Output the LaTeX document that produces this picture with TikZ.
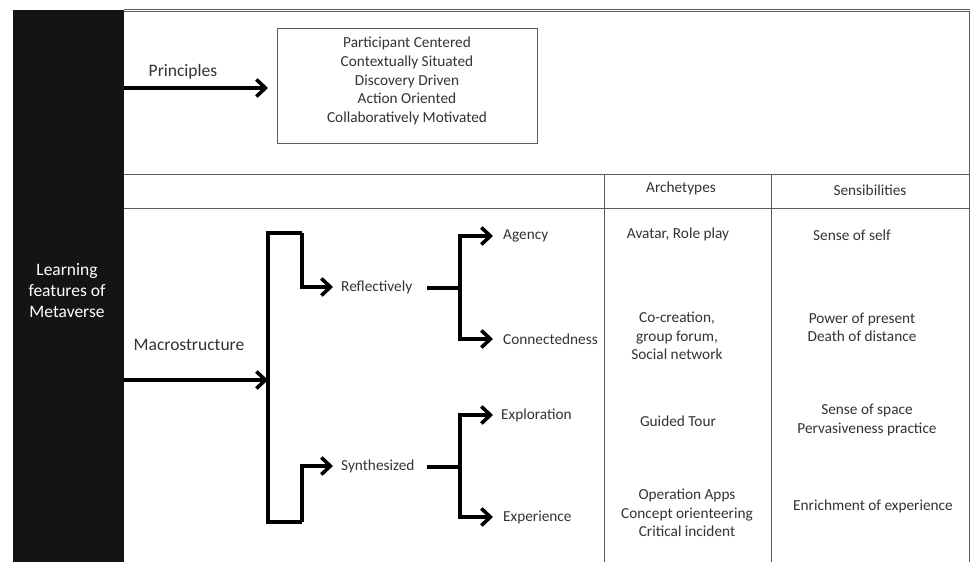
\documentclass[tikz,border=0pt]{standalone}
\usepackage{fontspec}
\setmainfont{Carlito}
\usetikzlibrary{arrows.meta}
\definecolor{barblack}{HTML}{141414}
\definecolor{rulegray}{HTML}{5A5A5A}
\definecolor{txtgray}{HTML}{333333}
\tikzset{
  rule/.style={draw=rulegray, line width=0.9pt},
  flow/.style={draw=black, line width=3.6pt, line join=miter},
  flowarrow/.style={flow, -{Straight Barb[length=9pt, width=17pt]}},
  lbl/.style={text=txtgray, font=\fontsize{15.3}{18.3}\selectfont, inner sep=1pt, align=center},
  biglbl/.style={text=txtgray, font=\fontsize{17.5}{21}\selectfont, inner sep=1pt},
}
\begin{document}
\begin{tikzpicture}[x=1pt, y=-1pt]
\useasboundingbox (0,0) rectangle (970,562);
\fill[white] (0,0) rectangle (970,562);

% table rules
\draw[rule, line width=0.7pt] (124,9) -- (970,9);
\draw[rule, line width=0.7pt] (124,11.5) -- (970,11.5);
\draw[rule] (124,174) -- (970,174);
\draw[rule] (124,208) -- (970,208);
\draw[rule] (604,174) -- (604,562);
\draw[rule] (771,174) -- (771,562);
\draw[rule] (969,11) -- (969,562);

% black side bar
\node[fill=barblack, minimum width=111pt, minimum height=552pt, inner sep=0pt, anchor=north west]
  (bar) at (13,10) {};
\node[text=white, font=\fontsize{17.5}{21}\selectfont, align=center] (title) at (67,291)
  {Learning\\features of\\Metaverse};

% principles
\node[draw=rulegray, line width=0.9pt, minimum width=260pt, minimum height=115pt, inner sep=0pt,
  anchor=north west] (pbox) at (277,28) {};
\node[lbl, font=\fontsize{15.3}{18.8}\selectfont] (plist) at (407,81)
  {Participant Centered\\Contextually Situated\\Discovery Driven\\Action Oriented\\Collaboratively Motivated};
\node[biglbl] (plabel) at (183,72) {Principles};
\coordinate (pstart) at (124,88);
\draw[flowarrow] (pstart) -- ([xshift=-9pt]pstart -| pbox.west);

% column headings
\node[lbl] (harch) at (681,188) {Archetypes};
\node[lbl] (hsens) at (870,190) {Sensibilities};

% macrostructure tree
\node[biglbl] (mlabel) at (189,345) {Macrostructure};
\coordinate (mstart) at (124,380);
\coordinate (mhub) at (268,380);
\coordinate (btop) at (268,233);
\coordinate (bbot) at (268,522);
\coordinate (ktop) at (302,233);
\coordinate (kbot) at (302,522);
\draw[flowarrow] (mstart) -- (mhub);
\draw[flow] (ktop) -- (btop) -- (bbot) -- (kbot);

\node[lbl, anchor=west] (refl) at (340,287) {Reflectively};
\node[lbl, anchor=west] (synt) at (340,466) {Synthesized};
\draw[flowarrow] (ktop) |- ([xshift=-7pt]refl.west);
\draw[flowarrow] (kbot) |- ([xshift=-7pt]synt.west);

\node[lbl, anchor=west] (agency) at (502,236) {Agency};
\node[lbl, anchor=west] (conn) at (502,339) {Connectedness};
\node[lbl, anchor=west] (explo) at (500,415) {Exploration};
\node[lbl, anchor=west] (exper) at (502,517) {Experience};

\coordinate (rfork) at (460,288);
\coordinate (sfork) at (460,467);
\coordinate (rtail) at (427,288);
\coordinate (stail) at (427,467);
\draw[flow] (rtail) -- (rfork);
\draw[flow] (stail) -- (sfork);
\draw[flowarrow] (rfork) |- ([xshift=-9pt]agency.west);
\draw[flowarrow] (rfork) |- ([xshift=-9pt]conn.west);
\draw[flowarrow] (sfork) |- ([xshift=-7pt]explo.west);
\draw[flowarrow] (sfork) |- ([xshift=-9pt]exper.west);

% archetypes column
\node[lbl] (a1) at (678,234) {Avatar, Role play};
\node[lbl] (a2) at (677,336) {Co-creation,\\group forum,\\Social network};
\node[lbl] (a3) at (678,421) {Guided Tour};
\node[lbl] (a4) at (687,513) {Operation Apps\\Concept orienteering\\Critical incident};

% sensibilities column
\node[lbl] (s1) at (852,235) {Sense of self};
\node[lbl] (s2) at (862,327) {Power of present\\Death of distance};
\node[lbl] (s3) at (867,420) {Sense of space\\Pervasiveness practice};
\node[lbl] (s4) at (873,506) {Enrichment of experience};
\end{tikzpicture}
\end{document}
